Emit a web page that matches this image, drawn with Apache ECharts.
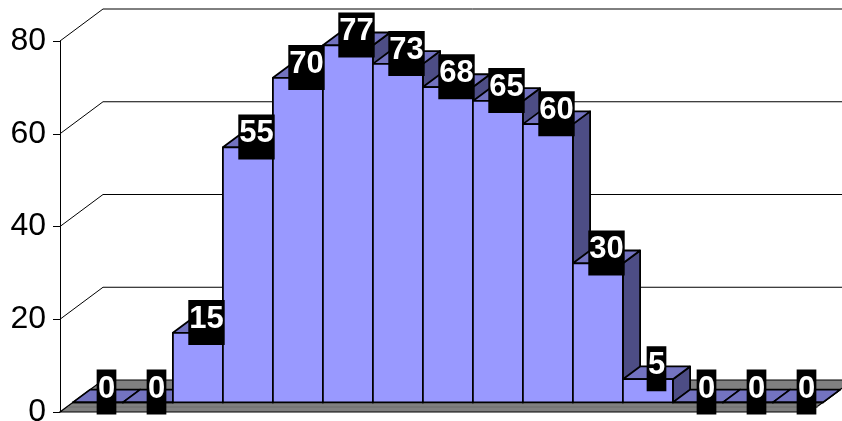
<!DOCTYPE html>
<html>
<head>
<meta charset="utf-8">
<script src="https://cdn.jsdelivr.net/npm/echarts@6/dist/echarts.min.js"></script>
<style>
  html, body { margin: 0; padding: 0; background: #fff; }
  #chart { width: 842px; height: 421px; }
</style>
</head>
<body>
<div id="chart"></div>
<script>
// data
var categories = ['1', '2', '3', '4', '5', '6', '7', '8', '9', '10', '11', '12', '13', '14', '15'];
var values = [0, 0, 15, 55, 70, 77, 73, 68, 65, 60, 30, 5, 0, 0, 0];
var yTicks = [0, 20, 40, 60, 80];

// fake 3d: how far the back wall sits from the front plane (px)
var DEPTH = [43, -32];
var BAR_Z0 = 0.3, BAR_Z1 = 0.7;

function off(z) { return [DEPTH[0] * z, DEPTH[1] * z]; }

var myChart = echarts.init(document.getElementById('chart'));

function wallItem(params, api) {
    var cs = params.coordSys;
    var p = api.coord([0, api.value(0)]);
    var x0 = cs.x, y = p[1];
    var back = off(1);
    if (api.value(0) === 0) {
        // floor slab
        var xr = cs.x + cs.width;
        return {
            type: 'group',
            children: [
                {
                    type: 'polygon',
                    shape: { points: [[x0, y], [xr, y], [xr + back[0], y + back[1]], [x0 + back[0], y + back[1]]] },
                    style: { fill: '#808080', stroke: '#000', lineWidth: 1.2 }
                },
                {
                    type: 'line',
                    shape: { x1: x0 + 8, y1: y - 5, x2: xr + 8, y2: y - 5 },
                    style: { stroke: '#6e6e6e', lineWidth: 1 }
                }
            ]
        };
    }
    return {
        type: 'polyline',
        shape: { points: [[x0, y], [x0 + back[0], y + back[1]], [842, y + back[1]]] },
        style: { fill: null, stroke: '#000', lineWidth: 1 }
    };
}

function barItem(params, api) {
    var i = api.value(0), v = api.value(1);
    var bw = api.size([1, 0])[0];
    var p0 = api.coord([i, 0]);
    var p1 = api.coord([i, v]);
    var f = off(BAR_Z0);
    var d = [off(BAR_Z1)[0] - f[0], off(BAR_Z1)[1] - f[1]];
    var xL = p0[0] - bw / 2 + f[0], xR = xL + bw;
    var yB = p0[1] + f[1], yT = p1[1] + f[1];
    var line = { stroke: '#000', lineWidth: 1.8, lineJoin: 'round' };
    return {
        type: 'group',
        children: [
            {
                type: 'polygon',
                shape: { points: [[xR, yT], [xR + d[0], yT + d[1]], [xR + d[0], yB + d[1]], [xR, yB]] },
                style: echarts.util.extend({ fill: '#4d4d85' }, line)
            },
            {
                type: 'polygon',
                shape: { points: [[xL, yT], [xR, yT], [xR + d[0], yT + d[1]], [xL + d[0], yT + d[1]]] },
                style: echarts.util.extend({ fill: '#7373c0' }, line)
            },
            {
                type: 'rect',
                shape: { x: xL, y: yT, width: bw, height: yB - yT },
                style: echarts.util.extend({ fill: '#9999ff' }, line)
            }
        ]
    };
}

// black box with white number, sitting on the middle of the bar top
function labelItem(params, api) {
    var i = api.value(0), v = api.value(1);
    var p1 = api.coord([i, v]);
    var f = off((BAR_Z0 + BAR_Z1) / 2);
    var txt = String(v);
    var cx = p1[0] + f[0];
    var cy = p1[1] + f[1] - 4;
    var w = 16.7 * txt.length + 3, h = 45;
    return {
        type: 'group',
        children: [
            {
                type: 'rect',
                shape: { x: cx - w / 2, y: cy - h / 2, width: w, height: h },
                style: { fill: '#000' }
            },
            {
                type: 'text',
                x: cx,
                y: cy - 3,
                style: {
                    text: txt,
                    fill: '#fff',
                    fontSize: 31,
                    fontWeight: 'bold',
                    fontFamily: 'Liberation Sans',
                    align: 'center',
                    verticalAlign: 'middle'
                }
            }
        ]
    };
}

var barData = values.map(function (v, i) { return [i, v]; });

myChart.setOption({
    animation: false,
    grid: { left: 60, top: 41, width: 750, height: 371, outerBoundsMode: 'none', containLabel: false },
    xAxis: {
        type: 'category',
        data: categories,
        show: false
    },
    yAxis: {
        type: 'value',
        min: 0,
        max: 80,
        interval: 20,
        axisLine: { show: true, lineStyle: { color: '#000', width: 1 } },
        axisTick: { show: true, length: 7, lineStyle: { color: '#000' } },
        axisLabel: {
            color: '#000',
            fontSize: 32,
            fontFamily: 'Liberation Sans',
            margin: 14
        },
        splitLine: { show: false }
    },
    series: [
        {
            type: 'custom',
            renderItem: wallItem,
            data: yTicks.map(function (t) { return [t]; }),
            encode: { y: 0 },
            z: 1,
            silent: true
        },
        {
            type: 'custom',
            renderItem: barItem,
            data: barData,
            encode: { x: 0, y: 1 },
            z: 2,
            silent: true
        },
        {
            type: 'custom',
            renderItem: labelItem,
            data: barData,
            encode: { x: 0, y: 1 },
            z: 3,
            silent: true
        }
    ]
});
</script>
</body>
</html>
